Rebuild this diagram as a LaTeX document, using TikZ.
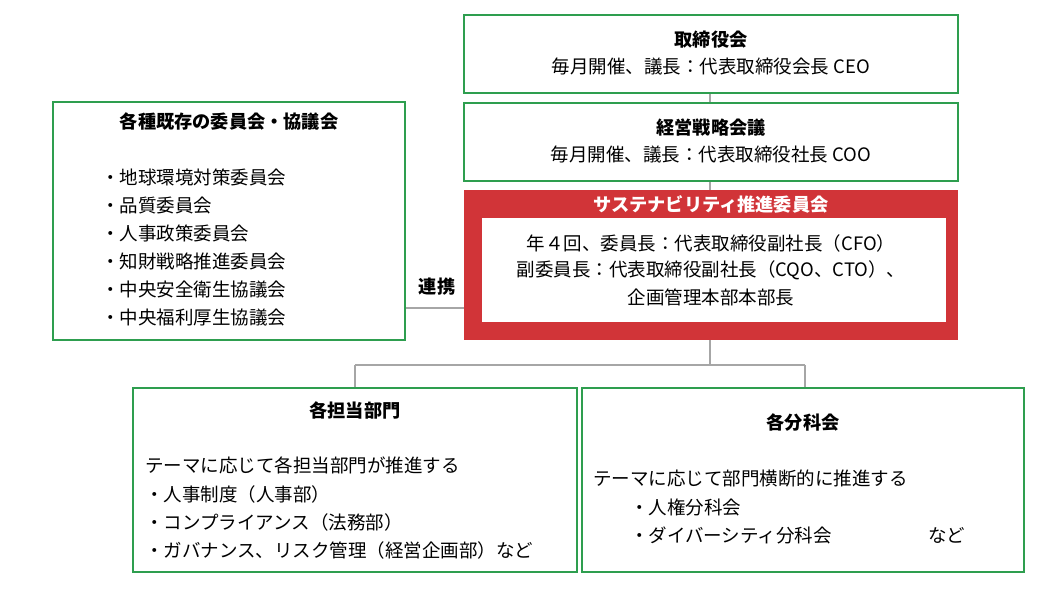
\documentclass[tikz,border=0pt]{standalone}
\usepackage{fontspec}
\setmainfont{Noto Sans CJK JP}
\definecolor{gb}{HTML}{2E9E4F}
\definecolor{rd}{HTML}{D13438}
\definecolor{ln}{HTML}{A6A6A6}
\begin{document}
\begin{tikzpicture}[x=1pt,y=-1pt,
  box/.style={draw=gb,line width=1.5pt},
  conn/.style={draw=ln,line width=1.5pt},
  t/.style={font=\fontsize{18.5}{22}\selectfont,inner sep=0pt},
  tb/.style={t,font=\fontsize{18.2}{22}\selectfont\bfseries}]
\useasboundingbox (0,0) rectangle (1050,590);
\coordinate (c1) at (710,93); \coordinate (c2) at (710,103);
\coordinate (c3) at (710,181); \coordinate (c4) at (710,190);
\draw[conn] (c1)--(c2); \draw[conn] (c3)--(c4);
\draw[conn] (405,308) -- (464,308);
\draw[conn] (710,340) -- (710,365) (355,365) -- (805,365) (355,365)--(355,388) (805,365)--(805,388);
\draw[box] (464,15) rectangle (958,93);
\node[tb] (a1) at (711,40) {取締役会};
\node[t] (a2) at (711,67) {毎月開催、議長：代表取締役会長 CEO};
\draw[box] (464,103) rectangle (958,181);
\node[tb] (b1) at (711,128) {経営戦略会議};
\node[t] (b2) at (711,155) {毎月開催、議長：代表取締役社長 COO};
\fill[rd] (464,190) rectangle (958,340);
\fill[white] (482,218) rectangle (946,322);
\node[tb,text=white] (r0) at (711,204) {サステナビリティ推進委員会};
\node[t] (r1) at (711,243) {年４回、委員長：代表取締役副社長（CFO）};
\node[t] (r2) at (711,270) {副委員長：代表取締役副社長（CQO、CTO）、};
\node[t] (r3) at (711,297) {企画管理本部本部長};
\draw[box] (53,102) rectangle (405,340);
\node[tb] (l0) at (229,122) {各種既存の委員会・協議会};
\foreach \s [count=\i from 0] in {地球環境対策委員会,品質委員会,人事政策委員会,知財戦略推進委員会,中央安全衛生協議会,中央福利厚生協議会}
  \node[t,anchor=west] (l\i x) at (101,177+28.2*\i) {・\s};
\node[tb] (rel) at (437,287) {連携};
\draw[box] (133,388) rectangle (577,572);
\node[tb] (d0) at (355,410) {各担当部門};
\node[t,anchor=west] (d1) at (145,465) {テーマに応じて各担当部門が推進する};
\node[t,anchor=west] (d2) at (145,494) {・人事制度（人事部）};
\node[t,anchor=west] (d3) at (145,522) {・コンプライアンス（法務部）};
\node[t,anchor=west] (d4) at (145,550) {・ガバナンス、リスク管理（経営企画部）など};
\draw[box] (582,388) rectangle (1024,572);
\node[tb] (e0) at (803,423) {各分科会};
\node[t,anchor=west] (e1) at (593,479) {テーマに応じて部門横断的に推進する};
\node[t,anchor=west] (e2) at (630,507) {・人権分科会};
\node[t,anchor=west] (e3) at (630,535) {・ダイバーシティ分科会};
\node[t,anchor=west] (e4) at (928,535) {など};
\end{tikzpicture}
\end{document}
